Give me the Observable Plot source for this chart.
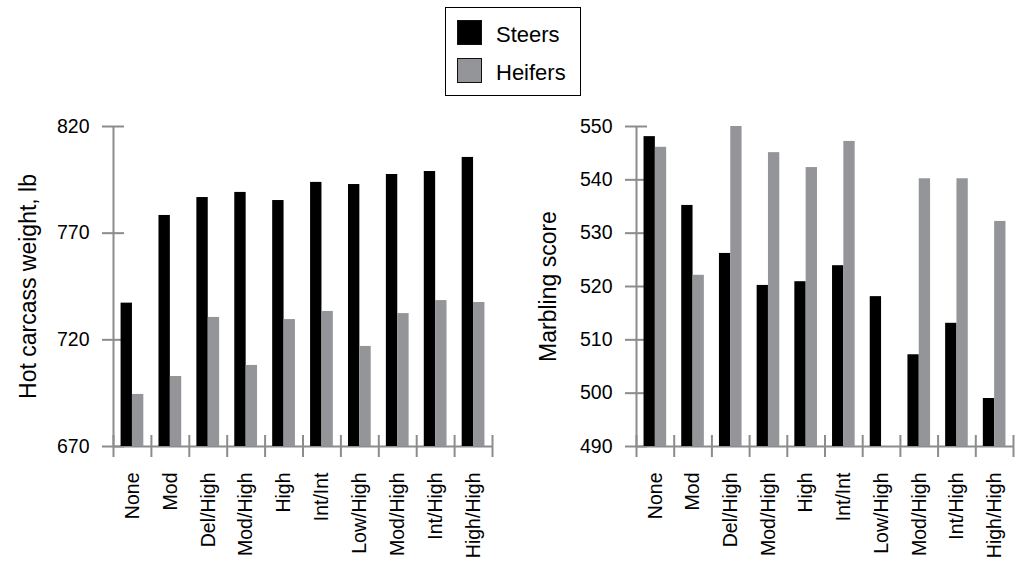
<!DOCTYPE html>
<html>
<head>
<meta charset="utf-8">
<script src="https://cdn.jsdelivr.net/npm/d3@7"></script>
<script src="https://cdn.jsdelivr.net/npm/@observablehq/plot@0.6"></script>
<style>
  body { margin: 0; background: #fff; font-family: "Liberation Sans", Arial, Helvetica, sans-serif; }
  #root { position: relative; width: 1026px; height: 563px; overflow: hidden; background: #fff; }
  #legend { position: absolute; left: 445px; top: 7px; width: 134px; height: 87px; border: 1.5px solid #000; box-sizing: content-box; }
  .sw { position: absolute; width: 23px; height: 23px; border: 1.5px solid #111; }
  .lt { position: absolute; font-size: 22px; line-height: 22px; color: #000; white-space: nowrap; }
  #left { position: absolute; left: 0; top: 100px; }
  #right { position: absolute; left: 513px; top: 100px; }
</style>
</head>
<body>
<div id="root">
  <div id="legend"></div>
  <div id="left"></div>
  <div id="right"></div>
</div>
<script>
// ---- data ----
const categories = ["None", "Mod", "Del/High", "Mod/High", "High", "Int/Int", "Low/High", "Mod/High", "Int/High", "High/High"];
const seriesNames = ["Steers", "Heifers"];
const seriesColors = ["#000000", "#939598"];

const hcwSteers  = [737.2, 778.3, 786.7, 789.1, 785.3, 793.8, 792.8, 797.5, 798.9, 805.5];
const hcwHeifers = [694.4, 702.8, 730.5, 708.0, 729.5, 733.3, 716.9, 732.3, 738.4, 737.5];
const hcwTicks = [670, 720, 770, 820];
const hcwTitle = "Hot carcass weight, lb";

const marbSteers  = [548.1, 535.2, 526.2, 520.2, 520.9, 523.9, 518.1, 507.2, 513.1, 499.0];
const marbHeifers = [546.1, 522.1, 550.0, 545.1, 542.3, 547.2, null, 540.2, 540.2, 532.2];
const marbTicks = [490, 500, 510, 520, 530, 540, 550];
const marbTitle = "Marbling score";

// ---- legend ----
const legend = document.getElementById("legend");
seriesNames.forEach((name, k) => {
  const sw = document.createElement("div");
  sw.className = "sw";
  sw.style.left = "11px";
  sw.style.top = (12 + k * 38) + "px";
  sw.style.background = seriesColors[k];
  legend.appendChild(sw);
  const t = document.createElement("div");
  t.className = "lt";
  t.style.left = "50px";
  t.style.top = (16 + k * 38) + "px";
  t.textContent = name;
  legend.appendChild(t);
});

// ---- chart ----
const axisColor = "#8c8c8c";
function chart(steers, heifers, yTicks, title, marginLeft, marginRight, titleDx) {
  const rows = [];
  categories.forEach((c, i) => {
    rows.push({i, cat: c, sex: "Steers", value: steers[i]});
    if (heifers[i] != null) rows.push({i, cat: c, sex: "Heifers", value: heifers[i]});
  });
  const y0 = yTicks[0], y1 = yTicks[yTicks.length - 1];
  const n = categories.length;
  return Plot.plot({
    width: 513,
    height: 463,
    marginTop: 26,
    marginBottom: 117,
    marginLeft,
    marginRight,
    style: {fontFamily: '"Liberation Sans", Arial, Helvetica, sans-serif', fontSize: "19.5px", color: "#000", background: "transparent", overflow: "visible"},
    x: {domain: [0, n], ticks: d3.range(n).map(i => i + 0.5), tickFormat: d => categories[Math.floor(d)], tickRotate: -90, tickSize: 0, tickPadding: 26, label: null},
    y: {domain: [y0, y1], ticks: yTicks, tickSize: 0, tickPadding: 24, label: null},
    color: {domain: seriesNames, range: seriesColors},
    marks: [
      Plot.ruleX([0], {y1: y0, y2: y1, stroke: axisColor, strokeWidth: 2}),
      Plot.ruleY([y0], {x1: 0, x2: n, stroke: axisColor, strokeWidth: 2}),
      Plot.ruleY(yTicks, {x1: 0, x2: 0, insetLeft: -11, insetRight: -11, stroke: axisColor, strokeWidth: 2}),
      Plot.ruleX(d3.range(n + 1), {y1: y0, y2: y0, insetTop: -11, insetBottom: -11, stroke: axisColor, strokeWidth: 2}),
      Plot.rect(rows, {
        x1: d => d.i + (d.sex === "Steers" ? 0.2 : 0.5),
        x2: d => d.i + (d.sex === "Steers" ? 0.5 : 0.8),
        y1: y0,
        y2: "value",
        fill: "sex"
      }),
      Plot.text([title], {frameAnchor: "left", textAnchor: "middle", lineAnchor: "middle", rotate: -90, dx: titleDx, fontSize: 23, fill: "#000"})
    ]
  });
}

document.getElementById("left").appendChild(chart(hcwSteers, hcwHeifers, hcwTicks, hcwTitle, 113, 21, -85));
document.getElementById("right").appendChild(chart(marbSteers, marbHeifers, marbTicks, marbTitle, 123, 13, -88));
</script>
</body>
</html>
